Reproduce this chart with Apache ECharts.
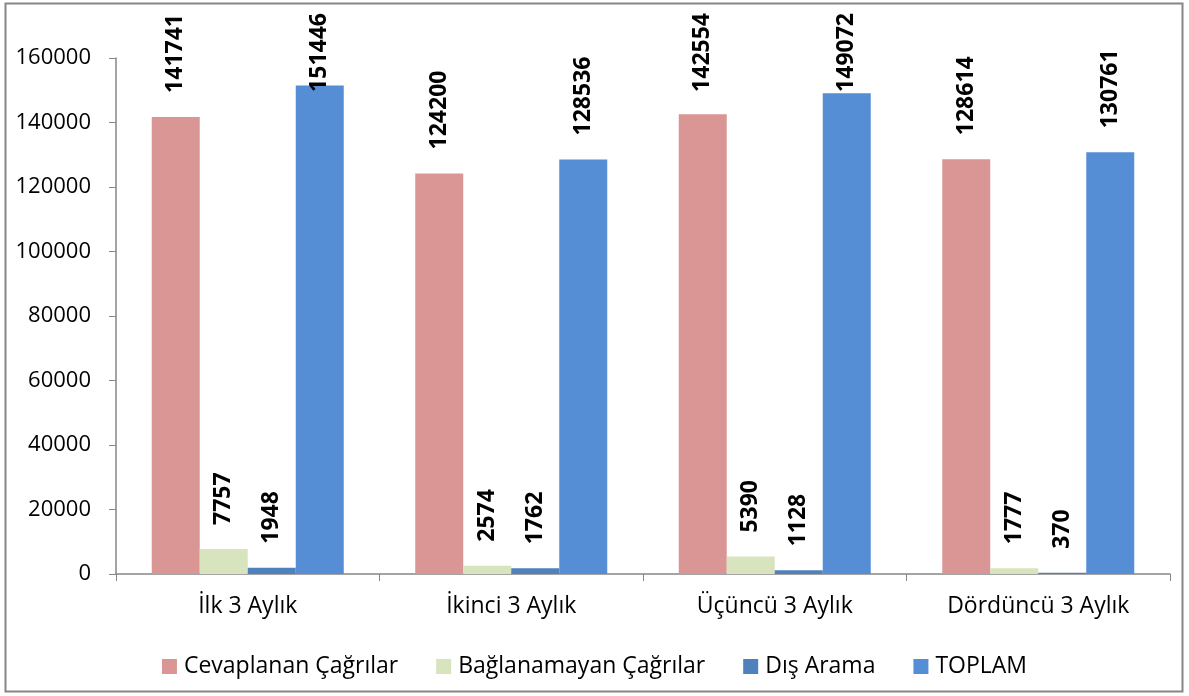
<!DOCTYPE html>
<html>
<head>
<meta charset="utf-8">
<script src="https://cdn.jsdelivr.net/npm/echarts@6/dist/echarts.min.js"></script>
<style>
  html, body { margin: 0; padding: 0; background: #fff; }
  #chart { width: 1189px; height: 696px; }
</style>
</head>
<body>
<div id="chart"></div>
<script>
const categories = ['İlk 3 Aylık', 'İkinci 3 Aylık', 'Üçüncü 3 Aylık', 'Dördüncü 3 Aylık'];
const seriesNames = ['Cevaplanan Çağrılar', 'Bağlanamayan Çağrılar', 'Dış Arama', 'TOPLAM'];
const cevaplanan = [141741, 124200, 142554, 128614];
const baglanamayan = [7757, 2574, 5390, 1777];
const disArama = [1948, 1762, 1128, 370];
const toplam = [151446, 128536, 149072, 130761];
const yTicks = [0, 20000, 40000, 60000, 80000, 100000, 120000, 140000, 160000];

const colors = ['#D99694', '#D7E4BD', '#4F81BD', '#558ED5'];
const font = '"Open Sans", "Liberation Sans", sans-serif';

const chart = echarts.init(document.getElementById('chart'));

// Excel keeps the rotated labels inside the plot; clamp the top at y=13
const clampLabel = p => {
  const r = p.labelRect;
  if (r.y >= 13) return {};
  return { x: r.x + r.width / 2, y: 13 + r.height };
};

const makeSeries = (name, data) => ({
  name: name,
  type: 'bar',
  data: data,
  barWidth: 48,
  barGap: '0%',
  label: {
    show: true,
    position: 'top',
    distance: 24,
    rotate: 90,
    align: 'left',
    verticalAlign: 'middle',
    fontFamily: font,
    fontSize: 23,
    fontWeight: 'bold',
    color: '#000'
  },
  labelLayout: clampLabel
});

chart.setOption({
  color: colors,
  animation: false,
  textStyle: { fontFamily: font },
  graphic: [{
    type: 'rect',
    shape: { x: 5.5, y: 3.5, width: 1177, height: 688 },
    style: { fill: 'none', stroke: '#868686', lineWidth: 2 },
    silent: true
  }],
  grid: { left: 116, right: 19, top: 58, bottom: 122 },
  legend: {
    data: seriesNames,
    left: 'center',
    top: 650,
    itemWidth: 15,
    itemHeight: 15,
    itemGap: 38,
    icon: 'rect',
    textStyle: { fontFamily: font, fontSize: 23, color: '#000', padding: [0, 0, 0, 2] }
  },
  xAxis: {
    type: 'category',
    data: categories,
    axisLine: { lineStyle: { color: '#868686', width: 1.5 } },
    axisTick: { show: true, length: 7, lineStyle: { color: '#868686' } },
    axisLabel: { fontFamily: font, fontSize: 23, color: '#000', margin: 21 }
  },
  yAxis: {
    type: 'value',
    min: yTicks[0],
    max: yTicks[yTicks.length - 1],
    interval: 20000,
    axisLine: { show: true, lineStyle: { color: '#868686', width: 1.5 } },
    axisTick: { show: true, length: 7, lineStyle: { color: '#868686' } },
    splitLine: { show: false },
    axisLabel: { fontFamily: font, fontSize: 22, color: '#000', margin: 25, formatter: v => String(v) }
  },
  series: [
    makeSeries(seriesNames[0], cevaplanan),
    makeSeries(seriesNames[1], baglanamayan),
    makeSeries(seriesNames[2], disArama),
    makeSeries(seriesNames[3], toplam)
  ]
});
</script>
</body>
</html>
